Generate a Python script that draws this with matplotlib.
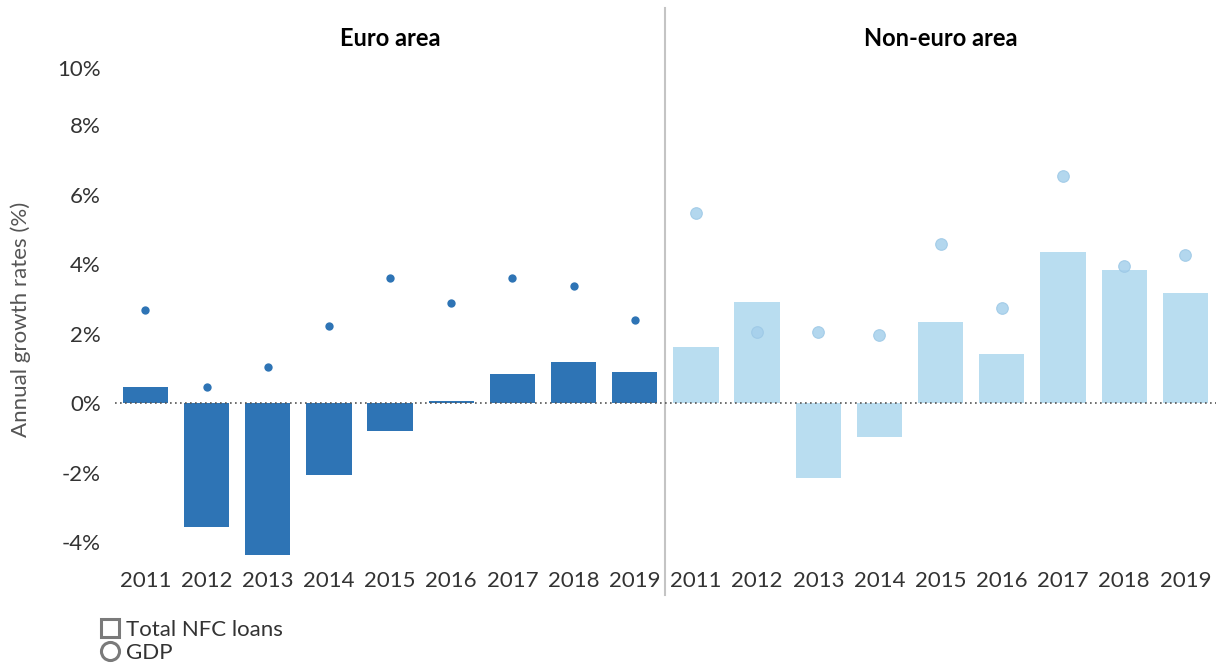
import matplotlib.pyplot as plt
import matplotlib.transforms as mtransforms
import numpy as np
from matplotlib.lines import Line2D

years = ['2011', '2012', '2013', '2014', '2015', '2016', '2017', '2018', '2019']
euro_loans = [0.46, -3.55, -4.37, -2.05, -0.80, 0.06, 0.83, 1.18, 0.89]
euro_gdp = [2.68, 0.46, 1.04, 2.24, 3.60, 2.88, 3.60, 3.37, 2.39]
noneuro_loans = [1.61, 2.91, -2.16, -0.98, 2.33, 1.41, 4.35, 3.83, 3.17]
noneuro_gdp = [5.47, 2.04, 2.04, 1.96, 4.60, 2.73, 6.53, 3.94, 4.26]
yticks = [-4, -2, 0, 2, 4, 6, 8, 10]

dark = '#2e74b5'
light = '#b9ddf0'
light_dot = '#a6d0ec'

plt.rcParams['font.family'] = ['Lato', 'DejaVu Sans']

fig = plt.figure(figsize=(12.22, 6.64), dpi=100)
ax = fig.add_axes([0.094, 0.152, 0.901, 0.7637])

n = len(years)
x1 = np.arange(n)
x2 = np.arange(n) + n

ax.bar(x1, euro_loans, width=0.74, color=dark, zorder=2)
ax.bar(x2, noneuro_loans, width=0.74, color=light, zorder=2)
ax.scatter(x1, euro_gdp, s=36, color=dark, zorder=3, linewidths=0)
ax.scatter(x2, noneuro_gdp, s=70, color=light_dot, edgecolors='#9cc8e6',
           linewidths=0.8, alpha=0.85, zorder=3)

ax.axhline(0, color='#555555', lw=1.2, ls=(0, (1, 2)), zorder=4)
ax.axvline(n - 0.5, ymin=-0.063, ymax=1.095, color='#c4c4c4', lw=1.5,
           clip_on=False)

ax.set_xlim(-0.5, 2 * n - 0.5)
ax.set_ylim(-4.6, 10.0)
ax.set_xticks(np.concatenate([x1, x2]))
ax.set_xticklabels(years + years)
ax.set_yticks(yticks)
ax.set_yticklabels([f'{v}%' for v in yticks])
ax.tick_params(axis='x', length=0, pad=6, labelsize=16, labelcolor='#333333')
ax.tick_params(axis='y', length=0, pad=10, labelsize=16, labelcolor='#333333')
top_lab = ax.get_yticklabels()[-1]
top_lab.set_va('top')
top_lab.set_transform(top_lab.get_transform() +
                      mtransforms.ScaledTranslation(0, -0.04, fig.dpi_scale_trans))
for s in ax.spines.values():
    s.set_visible(False)

ax.set_ylabel('Annual growth rates (%)', fontsize=16, color='#555555')
ax.yaxis.set_label_coords(-0.076, 0.48)

tr = ax.get_xaxis_transform()
ax.text((n - 1) / 2, 1.035, 'Euro area', transform=tr, ha='center',
        va='center', fontsize=17, fontweight='bold', color='black')
ax.text(n + (n - 1) / 2, 1.035, 'Non-euro area', transform=tr, ha='center',
        va='center', fontsize=17, fontweight='bold', color='black')

handles = [
    Line2D([], [], ls='', marker='s', markersize=13, markerfacecolor='white',
           markeredgecolor='#7a7a7a', markeredgewidth=2.2),
    Line2D([], [], ls='', marker='o', markersize=13, markerfacecolor='white',
           markeredgecolor='#7a7a7a', markeredgewidth=2.2),
]
fig.legend(handles, ['Total NFC loans', 'GDP'], loc='upper left',
           bbox_to_anchor=(0.074, 0.083), frameon=False, fontsize=16,
           handlelength=0.8, handletextpad=0.3, labelspacing=0.12,
           borderpad=0, labelcolor='#333333')

fig.savefig('out.png', dpi=100)
